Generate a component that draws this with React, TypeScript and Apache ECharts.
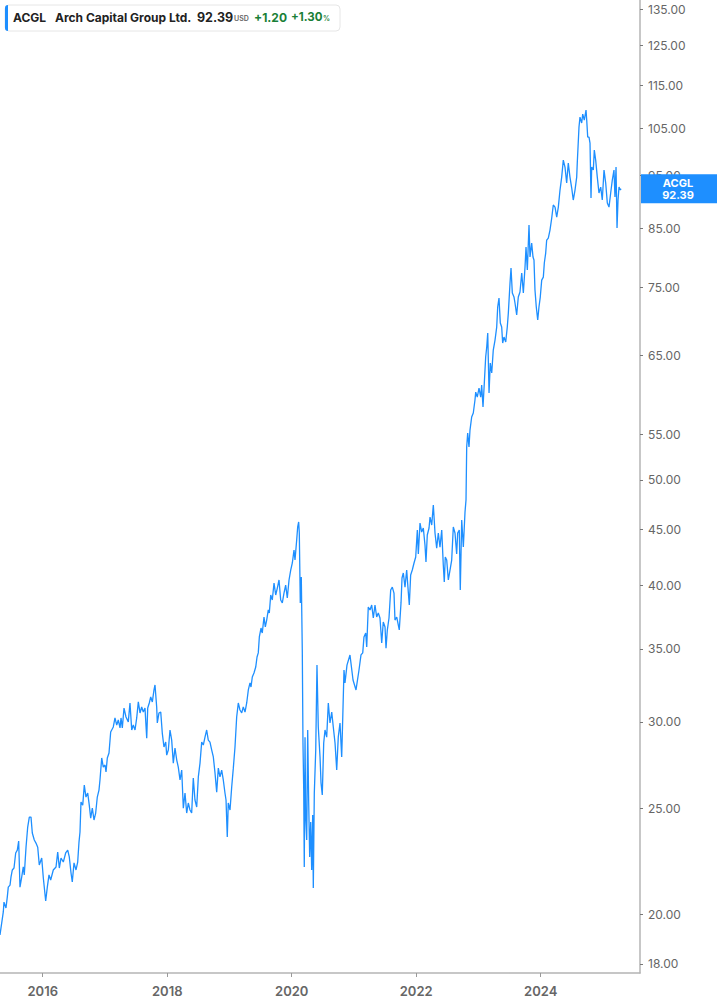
import React, { useEffect, useRef } from "react";
import * as echarts from "echarts";

const symbol = "ACGL";
const companyName = "Arch Capital Group Ltd.";
const lastPriceText = "92.39";
const currency = "USD";
const changeText = "+1.20";
const changePctText = "+1.30";

const xTickYears = [2016, 2018, 2020, 2022, 2024];
const yTicks = [18, 20, 25, 30, 35, 40, 45, 50, 55, 65, 75, 85, 95, 105, 115, 125, 135];

// decimal-year dates
const years = [
  2015.314, 2015.367, 2015.378, 2015.41, 2015.431, 2015.447, 2015.475, 2015.491, 2015.512, 2015.539,
  2015.566, 2015.592, 2015.614, 2015.635, 2015.663, 2015.688, 2015.704, 2015.732, 2015.759, 2015.785,
  2015.812, 2015.833, 2015.865, 2015.892, 2015.92, 2015.945, 2015.984, 2016.01, 2016.048, 2016.074,
  2016.101, 2016.128, 2016.17, 2016.214, 2016.241, 2016.267, 2016.294, 2016.331, 2016.369, 2016.402,
  2016.427, 2016.455, 2016.475, 2016.503, 2016.535, 2016.562, 2016.583, 2016.599, 2016.615, 2016.643,
  2016.668, 2016.695, 2016.723, 2016.748, 2016.771, 2016.797, 2016.824, 2016.851, 2016.877, 2016.904,
  2016.92, 2016.948, 2016.973, 2017.001, 2017.017, 2017.038, 2017.065, 2017.092, 2017.134, 2017.161,
  2017.189, 2017.214, 2017.242, 2017.258, 2017.279, 2017.306, 2017.338, 2017.375, 2017.402, 2017.43,
  2017.455, 2017.483, 2017.51, 2017.536, 2017.563, 2017.59, 2017.616, 2017.643, 2017.671, 2017.687,
  2017.712, 2017.735, 2017.761, 2017.788, 2017.804, 2017.831, 2017.841, 2017.868, 2017.896, 2017.921,
  2017.948, 2017.976, 2017.992, 2018.018, 2018.045, 2018.072, 2018.098, 2018.125, 2018.153, 2018.178,
  2018.206, 2018.233, 2018.259, 2018.286, 2018.313, 2018.339, 2018.366, 2018.393, 2018.419, 2018.446,
  2018.474, 2018.5, 2018.527, 2018.554, 2018.58, 2018.607, 2018.634, 2018.66, 2018.687, 2018.715,
  2018.741, 2018.768, 2018.795, 2018.821, 2018.848, 2018.875, 2018.901, 2018.928, 2018.945, 2018.965,
  2018.981, 2019.009, 2019.036, 2019.062, 2019.089, 2019.116, 2019.142, 2019.169, 2019.197, 2019.222,
  2019.25, 2019.277, 2019.303, 2019.33, 2019.346, 2019.367, 2019.394, 2019.422, 2019.443, 2019.463,
  2019.48, 2019.507, 2019.527, 2019.555, 2019.576, 2019.598, 2019.624, 2019.64, 2019.663, 2019.688,
  2019.716, 2019.743, 2019.769, 2019.796, 2019.823, 2019.849, 2019.876, 2019.903, 2019.929, 2019.957,
  2019.984, 2020.01, 2020.037, 2020.053, 2020.08, 2020.096, 2020.112, 2020.122, 2020.138, 2020.154,
  2020.17, 2020.181, 2020.193, 2020.202, 2020.214, 2020.225, 2020.241, 2020.257, 2020.273, 2020.289,
  2020.305, 2020.321, 2020.337, 2020.347, 2020.363, 2020.386, 2020.406, 2020.427, 2020.455, 2020.471,
  2020.491, 2020.514, 2020.535, 2020.562, 2020.588, 2020.615, 2020.643, 2020.668, 2020.696, 2020.723,
  2020.748, 2020.776, 2020.803, 2020.819, 2020.84, 2020.856, 2020.888, 2020.936, 2020.985, 2021.033,
  2021.081, 2021.113, 2021.141, 2021.161, 2021.189, 2021.205, 2021.23, 2021.258, 2021.285, 2021.311,
  2021.338, 2021.365, 2021.391, 2021.418, 2021.446, 2021.471, 2021.499, 2021.515, 2021.536, 2021.563,
  2021.59, 2021.616, 2021.643, 2021.659, 2021.687, 2021.712, 2021.728, 2021.756, 2021.772, 2021.793,
  2021.82, 2021.847, 2021.873, 2021.889, 2021.911, 2021.937, 2021.965, 2021.992, 2022.018, 2022.034,
  2022.061, 2022.088, 2022.114, 2022.141, 2022.157, 2022.178, 2022.206, 2022.222, 2022.249, 2022.275,
  2022.302, 2022.329, 2022.355, 2022.382, 2022.41, 2022.435, 2022.451, 2022.467, 2022.49, 2022.516,
  2022.543, 2022.57, 2022.596, 2022.623, 2022.65, 2022.666, 2022.692, 2022.708, 2022.731, 2022.757,
  2022.784, 2022.8, 2022.811, 2022.827, 2022.848, 2022.864, 2022.891, 2022.917, 2022.944, 2022.956,
  2022.981, 2023.009, 2023.036, 2023.052, 2023.073, 2023.094, 2023.116, 2023.133, 2023.149, 2023.17,
  2023.19, 2023.213, 2023.238, 2023.266, 2023.293, 2023.309, 2023.33, 2023.351, 2023.373, 2023.389,
  2023.41, 2023.438, 2023.463, 2023.48, 2023.507, 2023.523, 2023.544, 2023.571, 2023.587, 2023.614,
  2023.64, 2023.667, 2023.695, 2023.721, 2023.748, 2023.764, 2023.785, 2023.812, 2023.828, 2023.855,
  2023.876, 2023.892, 2023.908, 2023.929, 2023.952, 2023.972, 2023.993, 2024.016, 2024.042, 2024.058,
  2024.08, 2024.096, 2024.122, 2024.149, 2024.177, 2024.202, 2024.23, 2024.257, 2024.283, 2024.31,
  2024.337, 2024.363, 2024.39, 2024.417, 2024.443, 2024.47, 2024.498, 2024.523, 2024.551, 2024.578,
  2024.588, 2024.615, 2024.631, 2024.658, 2024.675, 2024.7, 2024.728, 2024.739, 2024.755, 2024.776,
  2024.792, 2024.808, 2024.819, 2024.845, 2024.861, 2024.883, 2024.909, 2024.936, 2024.964, 2024.989,
  2025.017, 2025.044, 2025.07, 2025.097, 2025.124, 2025.15, 2025.177, 2025.193, 2025.21, 2025.226,
  2025.242, 2025.258, 2025.279, 2025.29,
];

const prices = [
  19.14, 20.09, 20.51, 20.26, 20.73, 21.17, 21.26, 21.63, 21.95, 22.04,
  22.75, 22.89, 23.33, 21.17, 21.63, 22.09, 21.72, 23.03, 24.03, 24.54,
  24.54, 23.73, 23.38, 23.23, 23.03, 22.18, 22.51, 21.58, 20.56, 21.17,
  21.72, 21.49, 21.95, 22.09, 22.8, 22.04, 22.51, 22.32, 22.75, 22.89,
  22.56, 21.81, 21.4, 22.28, 21.95, 22.32, 23.28, 23.78, 25.33, 25.17,
  26.26, 25.6, 25.82, 25.17, 24.49, 25.01, 24.39, 24.75, 25.6, 25.98,
  26.54, 27.8, 27.27, 27.39, 26.99, 27.8, 28.09, 29.37, 29.68, 30.25,
  29.8, 30.12, 29.62, 30.25, 29.62, 30.89, 30.31, 30.0, 31.22, 29.49,
  29.8, 29.49, 30.25, 31.29, 30.57, 30.96, 30.63, 30.89, 28.99, 30.89,
  31.22, 31.62, 31.29, 32.09, 32.43, 30.96, 29.93, 30.57, 30.63, 29.3,
  28.45, 28.75, 27.97, 28.27, 29.49, 28.87, 27.5, 28.39, 27.68, 27.27,
  26.54, 27.1, 25.01, 25.82, 24.75, 25.28, 24.91, 24.75, 26.65, 25.44,
  25.07, 26.71, 27.5, 28.75, 28.57, 29.05, 29.49, 28.87, 28.75, 28.27,
  27.86, 26.93, 25.87, 27.21, 26.71, 27.1, 26.54, 25.82, 25.44, 23.53,
  25.28, 24.91, 26.15, 27.21, 28.45, 30.31, 31.22, 30.76, 30.57, 30.96,
  30.63, 31.22, 32.09, 32.57, 32.29, 32.98, 33.26, 33.68, 34.4, 34.7,
  35.89, 36.57, 36.19, 37.43, 36.65, 37.19, 37.99, 37.75, 39.21, 38.8,
  40.21, 39.21, 39.79, 40.47, 38.8, 38.56, 39.37, 40.04, 38.96, 40.47,
  41.33, 41.95, 43.11, 42.21, 44.03, 45.26, 45.74, 44.69, 38.56, 40.73,
  34.91, 28.69, 25.98, 22.09, 29.05, 24.54, 23.38, 29.49, 25.28, 22.56,
  24.29, 21.95, 24.65, 21.13, 25.82, 28.27, 33.82, 29.68, 27.86, 26.37,
  25.71, 28.69, 29.49, 29.05, 31.22, 29.93, 30.63, 29.68, 28.69, 27.1,
  29.05, 29.93, 27.86, 30.12, 33.47, 32.57, 33.82, 34.55, 32.77, 32.09,
  33.47, 34.55, 34.7, 35.89, 36.19, 35.13, 38.23, 37.99, 38.39, 37.35,
  38.39, 37.43, 37.75, 37.35, 35.43, 37.04, 36.65, 35.05, 36.42, 37.35,
  39.62, 39.87, 39.37, 37.19, 37.43, 36.81, 36.42, 38.56, 40.64, 41.07,
  39.87, 41.33, 39.45, 38.39, 40.9, 41.33, 41.95, 42.48, 44.97, 42.75,
  45.64, 44.78, 45.16, 43.57, 42.03, 44.5, 45.16, 46.22, 45.45, 47.41,
  44.69, 43.29, 44.69, 43.38, 44.97, 41.77, 40.3, 42.48, 42.21, 40.47,
  41.33, 42.21, 45.26, 44.69, 42.75, 44.69, 44.97, 39.62, 45.93, 43.38,
  46.71, 47.91, 53.58, 55.18, 53.58, 55.53, 57.08, 57.56, 59.16, 60.16,
  59.53, 60.68, 59.53, 61.06, 58.3, 61.32, 64.78, 66.16, 68.14, 60.04,
  63.97, 62.63, 65.74, 67.14, 69.01, 71.99, 73.37, 69.59, 69.01, 66.72,
  67.57, 66.86, 69.01, 71.08, 75.72, 78.16, 74.14, 73.52, 72.6, 70.79,
  73.52, 74.3, 77.35, 74.14, 78.33, 81.7, 77.83, 85.58, 80.0, 82.39,
  80.0, 79.49, 74.61, 71.99, 70.04, 71.99, 73.52, 76.2, 76.68, 78.99,
  80.67, 82.91, 83.26, 84.68, 86.86, 89.27, 88.89, 87.04, 88.89, 92.14,
  94.69, 98.16, 96.72, 93.51, 97.54, 94.69, 92.53, 90.22, 92.14, 94.69,
  97.75, 105.24, 107.47, 106.13, 108.16, 106.8, 109.08, 106.8, 103.04, 103.04,
  101.74, 90.6, 96.72, 96.11, 100.25, 98.16, 94.69, 91.56, 92.72, 90.22,
  96.11, 93.51, 89.65, 88.89, 91.56, 94.1, 96.11, 90.79, 96.72, 85.04,
  90.22, 92.72, 92.14, 92.39,
];

const lineColor = "#1e8fff";
const green = "#1a7f37";
const FONT = "Inter, 'Noto Sans', sans-serif";

export default function App() {
  const ref = useRef<HTMLDivElement>(null);

  useEffect(() => {
    if (!ref.current) return;
    const chart = echarts.init(ref.current, null, { renderer: "svg" });
    const data = years.map((t, i) => [t, Math.log(prices[i])]);
    const yMin = Math.log(18) - 0.019;
    const yMax = Math.log(135) + 0.019;

    chart.setOption({
      animation: false,
      backgroundColor: "#ffffff",
      grid: { left: 0, right: 77, top: 0, bottom: 32, containLabel: false },
      xAxis: {
        type: "value",
        min: 2015.314,
        max: 2025.595,
        axisLine: { show: true, lineStyle: { color: "#b4b4b4", width: 1.5 } },
        axisTick: {
          show: true,
          customValues: xTickYears,
          length: 4,
          lineStyle: { color: "#999" },
        },
        axisLabel: {
          customValues: xTickYears,
          formatter: (v: number) => String(Math.round(v)),
          color: "#666",
          fontSize: 13,
          fontWeight: 600,
          fontFamily: FONT,
          margin: 11,
        },
        splitLine: { show: false },
      },
      yAxis: {
        type: "value",
        position: "right",
        min: yMin,
        max: yMax,
        axisLine: { show: true, lineStyle: { color: "#b4b4b4", width: 1.5 } },
        axisTick: {
          show: true,
          customValues: yTicks.map((v) => Math.log(v)),
          length: 3,
          lineStyle: { color: "#777" },
        },
        axisLabel: {
          customValues: yTicks.map((v) => Math.log(v)),
          formatter: (v: number) => Math.exp(v).toFixed(2),
          color: "#666",
          fontSize: 12,
          fontFamily: FONT,
          margin: 8,
        },
        splitLine: { show: false },
      },
      series: [
        {
          type: "line",
          data,
          symbol: "none",
          lineStyle: { color: lineColor, width: 1.3 },
          z: 3,
        },
      ],
    });

    const lastY = chart.convertToPixel({ yAxisIndex: 0 }, Math.log(prices[prices.length - 1])) as number;

    chart.setOption({
      graphic: [
        {
          type: "rect",
          shape: { x: 5, y: 5, width: 335, height: 26, r: 4 },
          style: { fill: "#fff", stroke: "#e6e6e6", lineWidth: 1 },
          z: 100,
        },
        {
          type: "rect",
          shape: { x: 5, y: 5, width: 3, height: 26, r: [3, 0, 0, 3] },
          style: { fill: lineColor },
          z: 101,
        },
        {
          type: "text",
          x: 13,
          y: 17,
          style: { text: symbol, fill: "#222", font: `700 12px ${FONT}`, verticalAlign: "middle" },
          z: 101,
        },
        {
          type: "text",
          x: 55,
          y: 17,
          style: { text: companyName, fill: "#222", font: `700 12px ${FONT}`, verticalAlign: "middle" },
          z: 101,
        },
        {
          type: "text",
          x: 197,
          y: 17,
          style: { text: lastPriceText, fill: "#222", font: `700 12.5px ${FONT}`, verticalAlign: "middle" },
          z: 101,
        },
        {
          type: "text",
          x: 234,
          y: 18.5,
          style: { text: currency, fill: "#666", font: `600 7px ${FONT}`, verticalAlign: "middle" },
          z: 101,
        },
        {
          type: "text",
          x: 254,
          y: 17,
          style: { text: changeText, fill: green, font: `700 12px ${FONT}`, verticalAlign: "middle" },
          z: 101,
        },
        {
          type: "text",
          x: 291,
          y: 17,
          style: { text: changePctText, fill: green, font: `700 11.5px ${FONT}`, verticalAlign: "middle" },
          z: 101,
        },
        {
          type: "text",
          x: 323,
          y: 18.5,
          style: { text: "%", fill: green, font: `600 7px ${FONT}`, verticalAlign: "middle" },
          z: 101,
        },
        {
          type: "rect",
          shape: { x: 641, y: lastY - 14.5, width: 76, height: 29 },
          style: { fill: lineColor },
          z: 100,
        },
        {
          type: "text",
          x: 678,
          y: lastY - 6,
          style: { text: symbol, fill: "#fff", font: `700 11px ${FONT}`, align: "center", verticalAlign: "middle" },
          z: 101,
        },
        {
          type: "text",
          x: 678,
          y: lastY + 6,
          style: { text: lastPriceText, fill: "#fff", font: `700 11px ${FONT}`, align: "center", verticalAlign: "middle" },
          z: 101,
        },
      ],
    });

    return () => chart.dispose();
  }, []);

  return (
    <div
      ref={ref}
      style={{ position: "fixed", left: 0, top: 0, width: 717, height: 1005, background: "#fff" }}
    />
  );
}
